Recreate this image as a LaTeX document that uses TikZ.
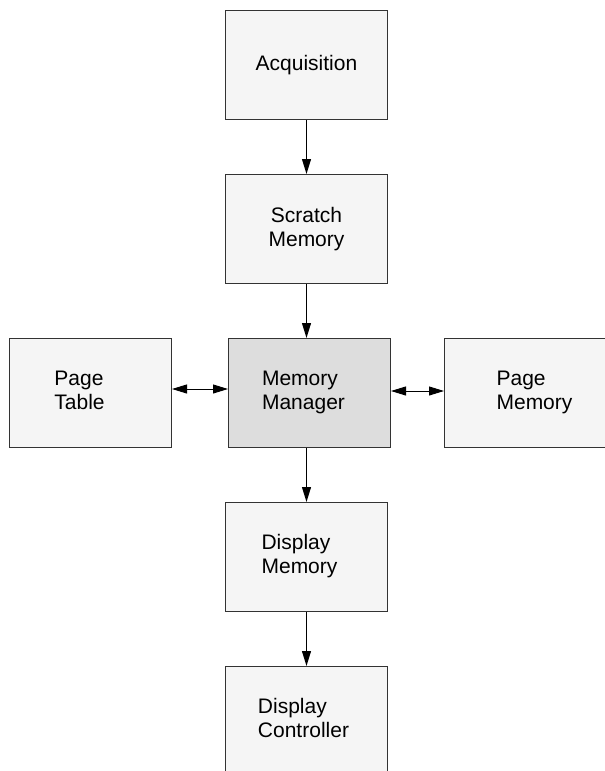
\documentclass[tikz,border=0pt]{standalone}
\usepackage{fontspec}
\setmainfont{Liberation Sans}
\usepackage{tikz}
\usetikzlibrary{arrows.meta, positioning}

\definecolor{boxfill}{HTML}{F5F5F5}
\definecolor{mgrfill}{HTML}{DDDDDD}
\definecolor{edgegray}{HTML}{333333}

% left-aligned lines, moved sideways by #1
\newcommand{\leftlines}[2]{\kern#1\begin{tabular}{@{}l@{}}#2\end{tabular}\kern-#1}

\begin{document}
\begin{tikzpicture}[
        x=1pt, y=1pt,
        node distance = 54pt and 56pt,
        font=\fontsize{21}{24}\selectfont,
        block/.style = {
            draw=edgegray,
            fill=boxfill,
            rectangle,
            line width=1pt,
            minimum width=162pt,
            minimum height=109pt,
            inner sep=0pt
        },
        manager/.style = {
            block,
            fill=mgrfill
        },
        flow/.style = {-{Triangle[length=15pt, width=9pt]}, line width=1pt},
        both/.style = {{Triangle[length=15pt, width=9pt]}-{Triangle[length=15pt, width=9pt]}, line width=1pt}
    ]

	    \useasboundingbox (0,0) rectangle (605,-771);

	    \node[block, align=center] (acq) at (306.5,-65) {Acquisition};
	    \node[block, align=center, below=of acq] (scr) {Scratch\\Memory};

	    \node[manager, below=of scr, xshift=3pt] (mgr) {\leftlines{-6pt}{Memory\\Manager}};

	    \node[block, left=of mgr] (ptab) {\leftlines{-11pt}{Page\\Table}};
	    \node[block, right=53pt of mgr] (pmem) {\leftlines{9pt}{Page\\Memory}};

	    \node[block, below=of mgr, xshift=-3pt] (dmem) {\leftlines{-7pt}{Display\\Memory}};
	    \node[block, below=of dmem] (dctl) {\leftlines{-3pt}{Display\\Controller}};

	    \draw[flow] (acq) -- (scr);
	    \draw[flow] (scr) -- (scr |- mgr.north);
	    \draw[flow] (dmem |- mgr.south) -- (dmem);
	    \draw[flow] (dmem) -- (dctl);

	    \draw[both] ([yshift=4pt]ptab.east) -- ([yshift=4pt]mgr.west);
	    \draw[both] ([yshift=2pt]mgr.east) -- ([yshift=2pt]pmem.west);

    \end{tikzpicture}
\end{document}
